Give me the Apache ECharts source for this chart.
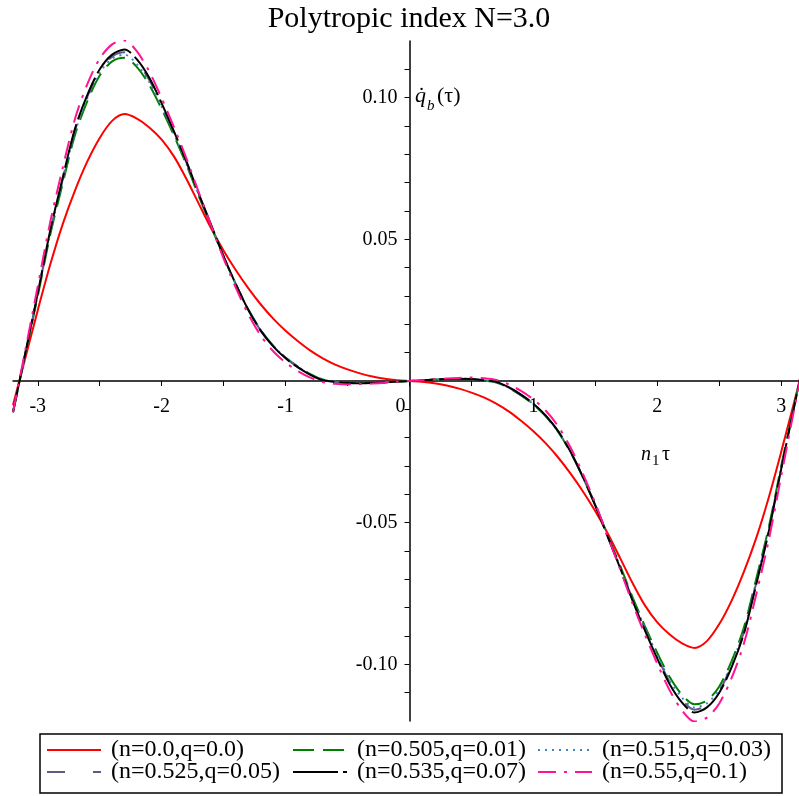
<!DOCTYPE html>
<html>
<head>
<meta charset="utf-8">
<script src="https://cdn.jsdelivr.net/npm/echarts@6/dist/echarts.min.js"></script>
<style>
  html, body { margin: 0; padding: 0; background: #fff; }
  #main { width: 799px; height: 796px; }
</style>
</head>
<body>
<div id="main"></div>
<script>
// n1*tau sample points
var tau = [-3.2, -3.1, -3.0, -2.9, -2.8, -2.7, -2.6, -2.5, -2.4, -2.3, -2.2, -2.1, -2.0, -1.9, -1.8, -1.7,
  -1.6, -1.5, -1.4, -1.3, -1.2, -1.1, -1.0, -0.9, -0.8, -0.7, -0.6, -0.5, -0.4, -0.3, -0.2, -0.1, 0,
  0.1, 0.2, 0.3, 0.4, 0.5, 0.6, 0.7, 0.8, 0.9, 1.0, 1.1, 1.2, 1.3, 1.4, 1.5, 1.6,
  1.7, 1.8, 1.9, 2.0, 2.1, 2.2, 2.3, 2.4, 2.5, 2.6, 2.7, 2.8, 2.9, 3.0, 3.1, 3.2];

// qdot_b(tau)
var q00 = [-0.0085, 0.0082, 0.0250, 0.0410, 0.0552, 0.0672, 0.0775, 0.0858, 0.0918, 0.0942, 0.0926, 0.0895, 0.0852, 0.0792, 0.0713, 0.0625,
  0.0538, 0.0460, 0.0390, 0.0327, 0.0270, 0.0220, 0.0177, 0.0140, 0.0107, 0.0080, 0.0058, 0.0041, 0.0027, 0.0016, 0.0008, 0.0003, 0,
  -0.0003, -0.0008, -0.0016, -0.0027, -0.0041, -0.0058, -0.0080, -0.0107, -0.0140, -0.0177, -0.0220, -0.0270, -0.0327, -0.0390, -0.0460, -0.0538,
  -0.0625, -0.0713, -0.0792, -0.0852, -0.0895, -0.0926, -0.0942, -0.0918, -0.0858, -0.0775, -0.0672, -0.0552, -0.0410, -0.0250, -0.0082, 0.0085];

var q01 = [-0.0110, 0.0095, 0.0300, 0.0515, 0.0695, 0.0868, 0.0988, 0.1078, 0.1128, 0.1141, 0.1108, 0.1045, 0.0960, 0.0865, 0.0763, 0.0652,
  0.0545, 0.0438, 0.0340, 0.0252, 0.0180, 0.0125, 0.0083, 0.0051, 0.0024, 0.0005, -0.0002, -0.0006, -0.0007, -0.0007, -0.0005, -0.0002, 0,
  0.0002, 0.0005, 0.0007, 0.0007, 0.0006, 0.0002, -0.0005, -0.0024, -0.0051, -0.0083, -0.0125, -0.0180, -0.0252, -0.0340, -0.0438, -0.0545,
  -0.0652, -0.0763, -0.0865, -0.0960, -0.1045, -0.1108, -0.1141, -0.1128, -0.1078, -0.0988, -0.0868, -0.0695, -0.0515, -0.0300, -0.0095, 0.0110];

var q03 = [-0.0110, 0.0097, 0.0305, 0.0522, 0.0705, 0.0878, 0.0998, 0.1088, 0.1138, 0.1152, 0.1118, 0.1055, 0.0968, 0.0871, 0.0768, 0.0655,
  0.0547, 0.0439, 0.0340, 0.0251, 0.0179, 0.0124, 0.0082, 0.0050, 0.0023, 0.0005, -0.0002, -0.0006, -0.0007, -0.0007, -0.0005, -0.0002, 0,
  0.0002, 0.0005, 0.0007, 0.0007, 0.0006, 0.0002, -0.0005, -0.0023, -0.0050, -0.0082, -0.0124, -0.0179, -0.0251, -0.0340, -0.0439, -0.0547,
  -0.0655, -0.0768, -0.0871, -0.0968, -0.1055, -0.1118, -0.1152, -0.1138, -0.1088, -0.0998, -0.0878, -0.0705, -0.0522, -0.0305, -0.0097, 0.0110];

var q05 = [-0.0110, 0.0099, 0.0308, 0.0526, 0.0710, 0.0884, 0.1004, 0.1094, 0.1145, 0.1160, 0.1126, 0.1062, 0.0974, 0.0875, 0.0771, 0.0658,
  0.0549, 0.0440, 0.0340, 0.0250, 0.0178, 0.0123, 0.0081, 0.0049, 0.0023, 0.0004, -0.0003, -0.0007, -0.0008, -0.0007, -0.0005, -0.0002, 0,
  0.0002, 0.0005, 0.0007, 0.0008, 0.0007, 0.0003, -0.0004, -0.0023, -0.0049, -0.0081, -0.0123, -0.0178, -0.0250, -0.0340, -0.0440, -0.0549,
  -0.0658, -0.0771, -0.0875, -0.0974, -0.1062, -0.1126, -0.1160, -0.1145, -0.1094, -0.1004, -0.0884, -0.0710, -0.0526, -0.0308, -0.0099, 0.0110];

var q07 = [-0.0110, 0.0100, 0.0310, 0.0530, 0.0715, 0.0890, 0.1010, 0.1100, 0.1152, 0.1170, 0.1135, 0.1070, 0.0980, 0.0880, 0.0775, 0.0660,
  0.0550, 0.0440, 0.0340, 0.0250, 0.0177, 0.0122, 0.0080, 0.0048, 0.0022, 0.0003, -0.0003, -0.0007, -0.0008, -0.0007, -0.0005, -0.0002, 0,
  0.0002, 0.0005, 0.0007, 0.0008, 0.0007, 0.0003, -0.0003, -0.0022, -0.0048, -0.0080, -0.0122, -0.0177, -0.0250, -0.0340, -0.0440, -0.0550,
  -0.0660, -0.0775, -0.0880, -0.0980, -0.1070, -0.1135, -0.1170, -0.1152, -0.1100, -0.1010, -0.0890, -0.0715, -0.0530, -0.0310, -0.0100, 0.0110];

var q10 = [-0.0110, 0.0110, 0.0335, 0.0560, 0.0750, 0.0925, 0.1048, 0.1138, 0.1188, 0.1202, 0.1163, 0.1092, 0.0998, 0.0895, 0.0785, 0.0665,
  0.0548, 0.0432, 0.0328, 0.0235, 0.0160, 0.0105, 0.0065, 0.0035, 0.0012, -0.0004, -0.0010, -0.0012, -0.0011, -0.0009, -0.0006, -0.0002, 0,
  0.0002, 0.0006, 0.0009, 0.0011, 0.0012, 0.0010, 0.0004, -0.0012, -0.0035, -0.0065, -0.0105, -0.0160, -0.0235, -0.0328, -0.0432, -0.0548,
  -0.0665, -0.0785, -0.0895, -0.0998, -0.1092, -0.1163, -0.1202, -0.1188, -0.1138, -0.1048, -0.0925, -0.0750, -0.0560, -0.0335, -0.0110, 0.0110];

var names = ['(n=0.0,q=0.0)', '(n=0.505,q=0.01)', '(n=0.515,q=0.03)',
  '(n=0.525,q=0.05)', '(n=0.535,q=0.07)', '(n=0.55,q=0.1)'];

var xTicks = [-3, -2.5, -2, -1.5, -1, -0.5, 0, 0.5, 1, 1.5, 2, 2.5, 3];
var xLabels = [-3, -2, -1, 0, 1, 2, 3];
var yTicks = [-0.11, -0.1, -0.09, -0.08, -0.07, -0.06, -0.05, -0.04, -0.03, -0.02, -0.01, 0,
  0.01, 0.02, 0.03, 0.04, 0.05, 0.06, 0.07, 0.08, 0.09, 0.1, 0.11];
var yLabels = [-0.1, -0.05, 0.05, 0.1];

var serif = 'Liberation Serif, DejaVu Serif, serif';

var chart = echarts.init(document.getElementById('main'));

function pairs(ys) {
  return tau.map(function (t, i) { return [t, ys[i]]; });
}

var styles = [
  { color: '#ff0000', type: 'solid' },
  { color: '#008000', type: [21, 9] },
  { color: '#3d85c6', type: [2, 5] },
  { color: '#5c5c85', type: [18, 28] },
  { color: '#000000', type: [45, 5] },
  { color: '#ff1493', type: [18, 8, 3, 8] }
];
var values = [q00, q01, q03, q05, q07, q10];

var series = values.map(function (ys, i) {
  return {
    name: names[i],
    type: 'line',
    data: pairs(ys),
    smooth: 0.3,
    symbol: 'none',
    showSymbol: false,
    lineStyle: { color: styles[i].color, type: styles[i].type, width: 2 },
    itemStyle: { color: styles[i].color }
  };
});

// grid geometry: x from -3.2..3.2 over 793px, y from -0.12..0.12 over 680px
var gridLeft = 13, gridTop = 41, gridW = 793, gridH = 680;

var legendLeft = [46, 292, 537];
var legendTop = [738, 760];
var legends = names.map(function (nm, i) {
  return {
    data: [nm],
    left: legendLeft[i % 3],
    top: legendTop[Math.floor(i / 3)],
    padding: 0,
    itemWidth: 54,
    itemHeight: 14,
    selectedMode: false,
    itemStyle: { color: 'rgba(0,0,0,0)', borderWidth: 0 },
    textStyle: { fontFamily: serif, fontSize: 24, color: '#000', padding: [0, 0, 0, 5] }
  };
});

chart.setOption({
  animation: false,
  backgroundColor: '#fff',
  title: {
    text: 'Polytropic index N=3.0',
    left: 409,
    textAlign: 'center',
    top: 4,
    padding: 0,
    textStyle: { fontFamily: serif, fontSize: 30, fontWeight: 'normal', color: '#000' }
  },
  legend: legends,
  grid: { left: gridLeft, top: gridTop, width: gridW, height: gridH, outerBoundsMode: 'none', containLabel: false },
  xAxis: {
    type: 'value',
    min: -3.2,
    max: 3.2,
    position: 'bottom',
    offset: -gridH / 2,
    axisLine: { onZero: false, lineStyle: { color: '#000', width: 1.5 } },
    axisTick: { show: true, customValues: xTicks, length: 5, lineStyle: { color: '#000', width: 1 } },
    axisLabel: {
      customValues: xLabels,
      margin: 16,
      fontFamily: serif,
      fontSize: 20,
      color: '#000',
      formatter: function (v) { return v === 0 ? '{zero|0}' : String(v); },
      rich: { zero: { fontFamily: serif, fontSize: 20, color: '#000', padding: [0, 18, 0, 0] } }
    },
    splitLine: { show: false }
  },
  yAxis: {
    type: 'value',
    min: -0.12,
    max: 0.12,
    position: 'left',
    offset: -gridW * 3.2 / 6.4,
    axisLine: { onZero: false, lineStyle: { color: '#000', width: 1.5 } },
    axisTick: { show: true, customValues: yTicks, length: 5, lineStyle: { color: '#000', width: 1 } },
    axisLabel: {
      customValues: yLabels,
      margin: 12,
      fontFamily: serif,
      fontSize: 20,
      color: '#000',
      formatter: function (v) { return v.toFixed(2); }
    },
    splitLine: { show: false }
  },
  graphic: [
    { type: 'rect', shape: { x: 40, y: 734, width: 742, height: 59 },
      style: { fill: 'none', stroke: '#000', lineWidth: 1.5 }, silent: true },
    { type: 'text', x: 415, y: 96, style: { text: 'q\u0307', font: 'italic 22px ' + serif, fill: '#000', verticalAlign: 'middle' } },
    { type: 'text', x: 427, y: 106, style: { text: 'b', font: 'italic 15px ' + serif, fill: '#000', verticalAlign: 'middle' } },
    { type: 'text', x: 437, y: 96, style: { text: '(\u03c4)', font: '22px ' + serif, fill: '#000', verticalAlign: 'middle' } },
    { type: 'text', x: 641, y: 455, style: { text: 'n', font: 'italic 20px ' + serif, fill: '#000', verticalAlign: 'middle' } },
    { type: 'text', x: 652, y: 461, style: { text: '1', font: '15px ' + serif, fill: '#000', verticalAlign: 'middle' } },
    { type: 'text', x: 662, y: 455, style: { text: '\u03c4', font: '20px ' + serif, fill: '#000', verticalAlign: 'middle' } }
  ],
  series: series
});
</script>
</body>
</html>
